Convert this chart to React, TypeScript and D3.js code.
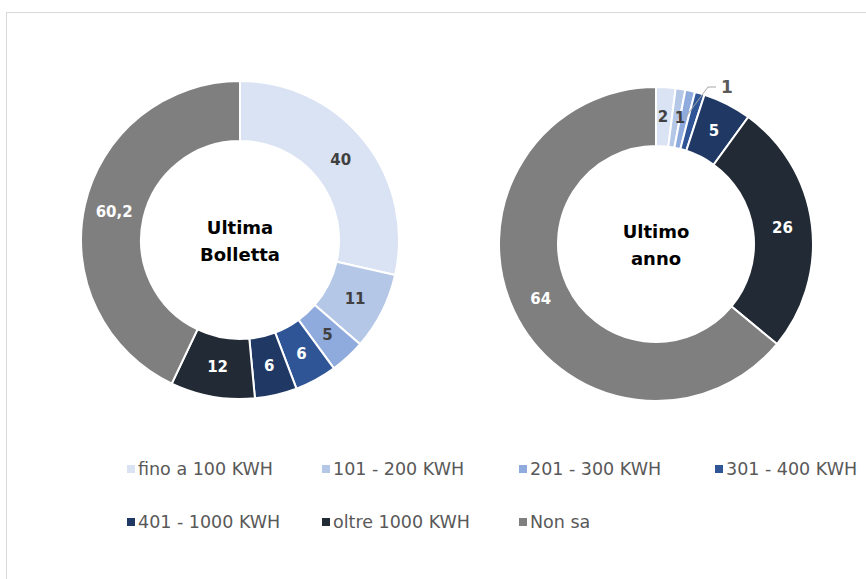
import React from "react";
import * as d3 from "d3";

const categories = ["fino a 100 KWH", "101 - 200 KWH", "201 - 300 KWH", "301 - 400 KWH", "401 - 1000 KWH", "oltre 1000 KWH", "Non sa"];
const colors = ["#dae3f3", "#b4c7e7", "#8faadc", "#2f5597", "#203864", "#222a35", "#7f7f7f"];
const labelColors = ["#404040", "#404040", "#404040", "#ffffff", "#ffffff", "#ffffff", "#ffffff"];
const bollettaValues = [40, 11, 5, 6, 6, 12, 60.2];
const bollettaLabels = ["40", "11", "5", "6", "6", "12", "60,2"];
const annoValues = [2, 1, 1, 1, 5, 26, 64];
const annoLabels = ["2", "1", "1", "", "5", "26", "64"];

const FONT = "'DejaVu Sans', sans-serif";

type DonutProps = {
  cx: number; cy: number; outer: number; inner: number;
  values: number[]; labels: string[]; title: string[]; leaderIndex?: number;
};

function Donut({ cx, cy, outer, inner, values, labels, title, leaderIndex }: DonutProps) {
  const pie = d3.pie<number>().sort(null).value((d) => d);
  const arcs = pie(values);
  const arc = d3.arc<d3.PieArcDatum<number>>().innerRadius(inner).outerRadius(outer);
  const labelArc = d3.arc<d3.PieArcDatum<number>>().innerRadius((inner + outer) / 2).outerRadius((inner + outer) / 2);
  return (
    <g transform={`translate(${cx},${cy})`}>
      {arcs.map((a, i) => (
        <path key={i} d={arc(a) || ""} fill={colors[i]} stroke="#ffffff" strokeWidth={2} />
      ))}
      {arcs.map((a, i) => {
        if (!labels[i]) return null;
        const [x, y] = labelArc.centroid(a);
        if (i === leaderIndex) {
          const tx = 63, ty = -157;
          return (
            <g key={"l" + i}>
              <polyline points={`${x},${y} ${tx - 11},${ty} ${tx - 3},${ty}`} fill="none" stroke="#a6a6a6" strokeWidth={1} />
              <text x={tx + 2} y={ty} dy="0.36em" fontSize={17} fontFamily={FONT} fontWeight={700} fill="#595959">{labels[i]}</text>
            </g>
          );
        }
        let ox = 0;
        if (leaderIndex !== undefined && i === 0) ox = -1;
        if (leaderIndex !== undefined && i === 1) ox = 4;
        return (
          <text key={"t" + i} x={x + ox} y={y} dy="0.36em" textAnchor="middle" fontSize={15} fontFamily={FONT} fontWeight={700} fill={labelColors[i]}>
            {labels[i]}
          </text>
        );
      })}
      {title.map((t, i) => (
        <text key={"c" + i} x={0} y={-6 + i * 27} textAnchor="middle" fontSize={18} fontFamily={FONT} fontWeight={700} fill="#000000">
          {t}
        </text>
      ))}
    </g>
  );
}

export default function App() {
  const legendRows = [[0, 1, 2, 3], [4, 5, 6]];
  const colX = [127, 322, 519, 715];
  const rowY = [469, 522];
  return (
    <svg width={866} height={579} style={{ position: "absolute", left: 0, top: 0, background: "#ffffff" }}>
      <rect x={6.5} y={12.5} width={880} height={600} fill="#ffffff" stroke="#d9d9d9" strokeWidth={1} />
      <Donut cx={240} cy={240} outer={159} inner={99} values={bollettaValues} labels={bollettaLabels} title={["Ultima", "Bolletta"]} />
      <Donut cx={656} cy={244} outer={157} inner={98} values={annoValues} labels={annoLabels} title={["Ultimo", "anno"]} leaderIndex={2} />
      {legendRows.map((row, r) =>
        row.map((ci, c) => (
          <g key={`${r}-${c}`} transform={`translate(${colX[c]},${rowY[r]})`}>
            <rect x={0} y={-4} width={8} height={8} fill={colors[ci]} />
            <text x={11} y={0} dy="0.36em" fontSize={17.5} fontFamily={FONT} fill="#595959">{categories[ci]}</text>
          </g>
        ))
      )}
    </svg>
  );
}
